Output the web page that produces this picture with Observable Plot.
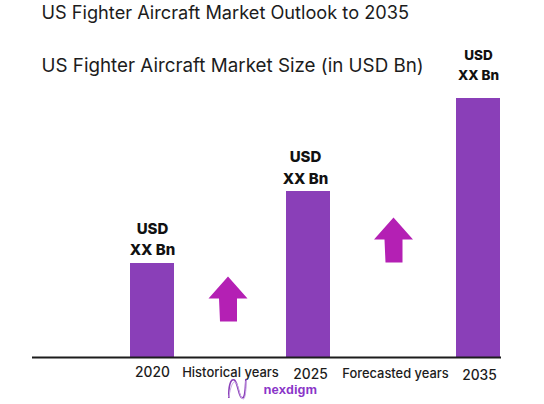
<!DOCTYPE html>
<html><head><meta charset="utf-8">
<script src="https://cdn.jsdelivr.net/npm/d3@7"></script>
<script src="https://cdn.jsdelivr.net/npm/@observablehq/plot@0.6"></script>
<style>html,body{margin:0;padding:0;background:#fff}svg{display:block}</style>
</head><body><div id="chart"></div>
<script>
const titles = ["US Fighter Aircraft Market Outlook to 2035", "US Fighter Aircraft Market Size (in USD Bn)"];
const years = [2020, 2025, 2035];
const values = [94, 166, 259];
const valueLabels = ["USD\nXX Bn", "USD\nXX Bn", "USD\nXX Bn"];
const periods = ["Historical years", "Forecasted years"];
const periodYears = [2022.5, 2030];
const arrowValues = [58.5, 117.5];
const brand = "nexdigm";

const bars = years.map((year, i) => ({year, value: values[i], label: valueLabels[i]}));
const spans = periods.map((name, i) => ({name, year: periodYears[i], arrow: arrowValues[i]}));

const arrowSymbol = {draw(c) {
  c.moveTo(0, -22.5); c.lineTo(19.5, -0.5); c.lineTo(9, -0.5); c.lineTo(9, 22.5);
  c.lineTo(-8, 22.5); c.lineTo(-9, -0.5); c.lineTo(-19.5, -0.5); c.closePath();
}};
const logoSymbol = {draw(c) {
  c.moveTo(-8.5, 9); c.bezierCurveTo(-9, -2, -7, -11, -3, -9);
  c.bezierCurveTo(1, -6, 1, 9, 5, 9); c.bezierCurveTo(8, 9, 8, -2, 8.5, -10);
}};
const logoSymbolB = {draw(c) {
  c.moveTo(-8.5, 8); c.bezierCurveTo(-7, -1, -5, -8, -2, -7);
  c.bezierCurveTo(2, -4, 2, 10, 6, 10); c.bezierCurveTo(8, 10, 9, 0, 8.5, -8);
}};
const font = "Inter, 'Noto Sans', sans-serif";
const ink = "#1c1c1c";

const plot = Plot.plot({
  width: 544, height: 404,
  marginLeft: 32, marginRight: 43, marginTop: 98, marginBottom: 47,
  style: {background: "#fff"},
  x: {type: "linear", domain: [2020, 2025, 2035], range: [152, 308, 478], axis: null},
  y: {domain: [0, 259], range: [357, 98], axis: null},
  marks: [
    Plot.rectY(bars, {x1: "year", x2: "year", y1: 0, y2: "value", insetLeft: -22, insetRight: -22, fill: "#8a3fb8"}),
    Plot.ruleY([0], {stroke: ink, strokeWidth: 2}),
    Plot.text(bars.slice(0, 1), {x: "year", y: "value", text: "label", lineAnchor: "bottom", lineHeight: 1.42, dy: -8.5, fontSize: 15, fontWeight: 800, fill: "#111", fontFamily: font}),
    Plot.text(bars.slice(1, 2), {x: "year", y: "value", text: "label", dx: -3, lineAnchor: "bottom", lineHeight: 1.42, dy: -8, fontSize: 15, fontWeight: 800, fill: "#111", fontFamily: font}),
    Plot.text(bars.slice(2), {x: "year", y: "value", text: "label", lineAnchor: "bottom", lineHeight: 1.5, dy: -18.5, fontSize: 13.5, fontWeight: 800, fill: "#111", fontFamily: font}),
    Plot.text(bars.slice(0, 1), {x: "year", y: 0, text: d => String(d.year), dy: 15.5, fontSize: 13.8, fontWeight: 500, fill: ink, fontFamily: font}),
    Plot.text(bars.slice(1, 2), {x: "year", y: 0, text: d => String(d.year), dx: 2, dy: 17, fontSize: 13.8, fontWeight: 500, fill: ink, fontFamily: font}),
    Plot.text(bars.slice(2), {x: "year", y: 0, text: d => String(d.year), dx: 1, dy: 18, fontSize: 13.8, fontWeight: 500, fill: ink, fontFamily: font}),
    Plot.text(spans.slice(0, 1), {x: "year", y: 0, text: "name", dy: 15.5, fontSize: 13, fontWeight: 500, fill: ink, fontFamily: font}),
    Plot.text(spans.slice(1), {x: "year", y: 0, text: "name", dx: 2, dy: 16, fontSize: 12.9, fontWeight: 500, fill: ink, fontFamily: font}),
    Plot.dot(spans.slice(0, 1), {x: "year", y: "arrow", dx: -2.5, symbol: arrowSymbol, r: 1, fill: "#b420b4", stroke: "none"}),
    Plot.dot(spans.slice(1), {x: "year", y: "arrow", symbol: arrowSymbol, r: 1, fill: "#b420b4", stroke: "none"}),
    Plot.dot([brand], {x: () => 2022.72, y: () => -31.5, symbol: logoSymbol, r: 1, fill: "none", stroke: "#8a3fb8", strokeWidth: 1.6}),
    Plot.dot([brand], {x: () => 2022.72, y: () => -31.5, symbol: logoSymbolB, r: 1, fill: "none", stroke: "#c9a6e6", strokeWidth: 1}),
    Plot.text([brand], {x: () => 2023.56, y: () => -32, text: d => d, textAnchor: "start", fontSize: 13, fontWeight: 700, fill: "#8a35c8", fontFamily: "'Liberation Sans Narrow', 'Liberation Sans', sans-serif"}),
    Plot.text([titles[0]], {frameAnchor: "top-left", dx: 9, dy: -98 + 13, text: d => d, lineAnchor: "middle", fontSize: 18.2, fill: ink, fontFamily: font}),
    Plot.text([titles[1]], {frameAnchor: "top-left", dx: 9, dy: -98 + 65, text: d => d, lineAnchor: "middle", fontSize: 18.8, fill: ink, fontFamily: font})
  ]
});
document.getElementById("chart").append(plot);
</script></body></html>
